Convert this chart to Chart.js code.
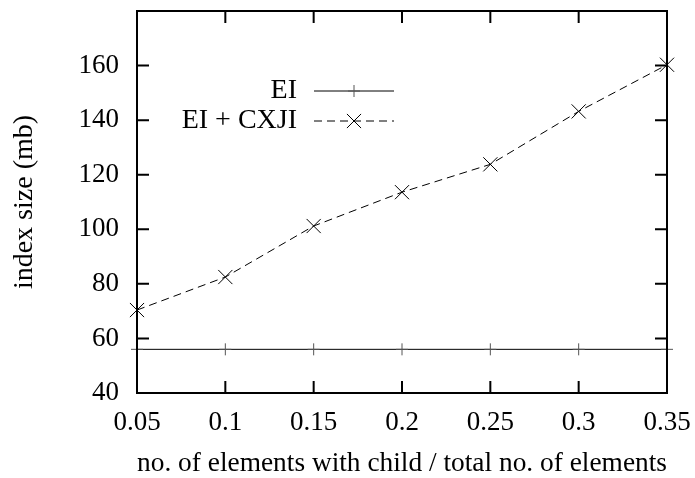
<!DOCTYPE html>
<html>
<head>
<meta charset="utf-8">
<title>index size</title>
<script src="https://cdn.jsdelivr.net/npm/chart.js@4.4.1/dist/chart.umd.min.js"></script>
<style>
  html, body { margin: 0; padding: 0; background: #fff; }
  #wrap { width: 695px; height: 478px; }
</style>
</head>
<body>
<div id="wrap"><canvas id="sizeChart" width="695" height="478"></canvas></div>
<script>
// fraction of elements that have a child
const ratios = [0.05, 0.1, 0.15, 0.2, 0.25, 0.3, 0.35];
// index size in mb
const eiSize = [56, 56, 56, 56, 56, 56, 56];
const cxjiSize = [70.4, 82.5, 101.2, 113.6, 123.8, 143.2, 160.3];

const xTicks = [0.05, 0.1, 0.15, 0.2, 0.25, 0.3, 0.35];
const yTicks = [40, 60, 80, 100, 120, 140, 160, 180];

const serif = '"Liberation Serif", "DejaVu Serif", serif';
const tickSize = 27;
const textSize = 28;

function points(ys) {
    return ratios.map((r, i) => ({ x: r, y: ys[i] }));
}

// no extra room for half-labels at the axis ends
function noEdgePadding(scale) {
    scale.paddingTop = 0;
    scale.paddingBottom = 0;
    scale.paddingLeft = 0;
    scale.paddingRight = 0;
}

// gnuplot-like frame: border with inward ticks on all four sides
const framePlugin = {
    id: 'frame',
    afterDatasetsDraw(chart) {
        const { ctx, chartArea: a, scales } = chart;
        const len = 12;
        ctx.save();
        ctx.strokeStyle = '#000';
        ctx.lineWidth = 2;
        ctx.strokeRect(a.left, a.top, a.right - a.left, a.bottom - a.top);
        ctx.beginPath();
        scales.x.ticks.forEach(t => {
            const px = scales.x.getPixelForValue(t.value);
            ctx.moveTo(px, a.bottom); ctx.lineTo(px, a.bottom - len);
            ctx.moveTo(px, a.top); ctx.lineTo(px, a.top + len);
        });
        scales.y.ticks.forEach(t => {
            const py = scales.y.getPixelForValue(t.value);
            ctx.moveTo(a.left, py); ctx.lineTo(a.left + len, py);
            ctx.moveTo(a.right, py); ctx.lineTo(a.right - len, py);
        });
        ctx.stroke();
        ctx.restore();
    }
};

// key in the top-left: title text on the left, line sample on the right
const keyPlugin = {
    id: 'key',
    afterDraw(chart) {
        const { ctx } = chart;
        const textRight = 297, lineL = 314, lineR = 394, mid = 354;
        const rows = [91, 121];
        ctx.save();
        ctx.font = textSize + 'px ' + serif;
        ctx.textAlign = 'right';
        ctx.textBaseline = 'middle';
        chart.data.datasets.forEach((ds, i) => {
            const y = rows[i];
            ctx.fillStyle = '#000';
            ctx.fillText(ds.label, textRight, y);
            ctx.strokeStyle = ds.borderColor;
            ctx.lineWidth = ds.borderWidth;
            ctx.setLineDash(ds.borderDash || []);
            ctx.beginPath();
            ctx.moveTo(lineL, y); ctx.lineTo(lineR, y);
            ctx.stroke();
            ctx.setLineDash([]);
            ctx.strokeStyle = ds.pointBorderColor;
            Chart.helpers.drawPoint(ctx, {
                pointStyle: ds.pointStyle,
                rotation: 0,
                radius: ds.pointRadius,
                borderWidth: 1
            }, mid, y);
        });
        ctx.restore();
    }
};

document.addEventListener('DOMContentLoaded', () => {
    const ctx = document.getElementById('sizeChart').getContext('2d');

    new Chart(ctx, {
        type: 'line',
        data: {
            datasets: [{
                label: 'EI',
                data: points(eiSize),
                borderColor: '#000',
                borderWidth: 1,
                pointStyle: 'cross',
                pointRadius: 6,
                pointBorderColor: '#555',
                pointBorderWidth: 1,
                fill: false,
                clip: false
            }, {
                label: 'EI + CXJI',
                data: points(cxjiSize),
                borderColor: '#000',
                borderWidth: 1,
                borderDash: [8, 5],
                pointStyle: 'crossRot',
                pointRadius: 10,
                pointBorderColor: '#000',
                pointBorderWidth: 1,
                fill: false,
                clip: false
            }]
        },
        options: {
            responsive: false,
            animation: false,
            layout: { padding: { top: 7, right: 28, left: 0, bottom: 0 } },
            plugins: {
                legend: { display: false },
                tooltip: { enabled: false }
            },
            scales: {
                x: {
                    type: 'linear',
                    min: 0.05,
                    max: 0.35,
                    afterBuildTicks: scale => { scale.ticks = xTicks.map(v => ({ value: v })); },
                    afterFit: scale => { scale.height = 85; noEdgePadding(scale); },
                    grid: { display: false, drawTicks: false },
                    border: { display: false },
                    ticks: {
                        color: '#000',
                        padding: 14,
                        maxRotation: 0,
                        font: { family: serif, size: tickSize },
                        callback: v => String(Number(v.toFixed(2)))
                    },
                    title: {
                        display: true,
                        text: 'no. of elements with child / total no. of elements',
                        color: '#000',
                        font: { family: serif, size: textSize, lineHeight: 1 },
                        padding: { top: 0, bottom: 0 }
                    }
                },
                y: {
                    min: 40,
                    max: 180,
                    afterBuildTicks: scale => { scale.ticks = yTicks.map(v => ({ value: v })); },
                    afterFit: scale => { scale.width = 137; noEdgePadding(scale); },
                    grid: { display: false, drawTicks: false },
                    border: { display: false },
                    ticks: {
                        color: '#000',
                        padding: 18,
                        font: { family: serif, size: tickSize },
                        callback: v => (v === 180 ? '' : String(v))
                    },
                    title: {
                        display: true,
                        text: 'index size (mb)',
                        color: '#000',
                        font: { family: serif, size: textSize, lineHeight: 1 },
                        padding: { top: 11, bottom: 0 }
                    }
                }
            }
        },
        plugins: [framePlugin, keyPlugin]
    });
});
</script>
</body>
</html>
